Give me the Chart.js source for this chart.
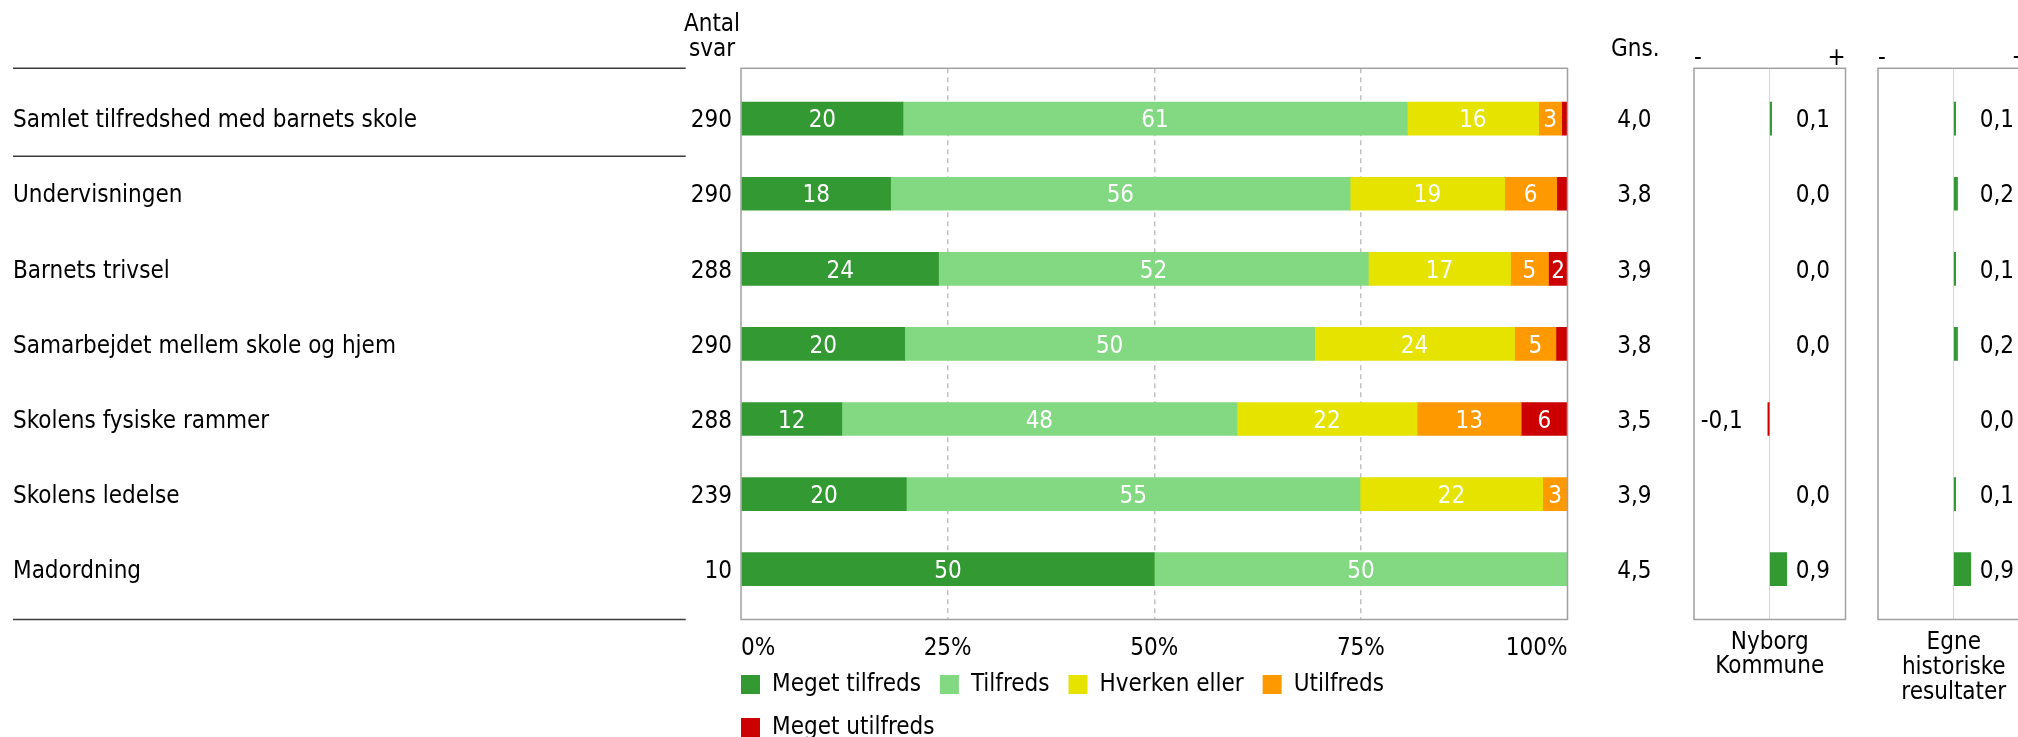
<!DOCTYPE html>
<html>
<head>
<meta charset="utf-8">
<script src="https://cdn.jsdelivr.net/npm/chart.js@4.4.1/dist/chart.umd.min.js"></script>
<style>
  html, body { margin: 0; padding: 0; background: #fff; overflow: hidden; }
  #wrap { position: relative; width: 2018px; height: 737px; overflow: hidden; }
  .box { position: absolute; top: 0; }
</style>
</head>
<body>
<div id="wrap">
  <div class="box" style="left:0;width:1600px;height:756px"><canvas id="mainChart"></canvas></div>
  <div class="box" style="left:1580px;width:300px;height:737px"><canvas id="nyborgChart"></canvas></div>
  <div class="box" style="left:1760px;width:300px;height:737px"><canvas id="egneChart"></canvas></div>
</div>
<script>
const categories = [
  'Samlet tilfredshed med barnets skole',
  'Undervisningen',
  'Barnets trivsel',
  'Samarbejdet mellem skole og hjem',
  'Skolens fysiske rammer',
  'Skolens ledelse',
  'Madordning',
];
const antalSvar = [290, 290, 288, 290, 288, 239, 10];

const seriesNames = ['Meget tilfreds', 'Tilfreds', 'Hverken eller', 'Utilfreds', 'Meget utilfreds'];
const megetTilfreds = [19.6, 18.1, 23.9, 19.8, 12.2, 20.0, 50];
const tilfreds = [61.0, 55.6, 52.0, 49.6, 47.8, 54.9, 50];
const hverkenEller = [15.9, 18.7, 17.2, 24.2, 21.8, 22.1, 0];
const utilfreds = [2.8, 6.3, 4.6, 5.0, 12.6, 3.0, 0];
const megetUtilfreds = [0.7, 1.3, 2.3, 1.4, 5.6, 0, 0];
const percentTicks = [0, 25, 50, 75, 100];

const gns = [4.0, 3.8, 3.9, 3.8, 3.5, 3.9, 4.5];
const nyborgDiff = [0.1, 0.0, 0.0, 0.0, -0.1, 0.0, 0.9];
const egneDiff = [0.1, 0.2, 0.1, 0.2, 0.0, 0.1, 0.9];

const COLORS = ['#339933', '#82d982', '#e6e300', '#ff9900', '#cc0000'];
const FONT = "'DejaVu Sans Condensed', 'DejaVu Sans', sans-serif";
const FS = 24;
const DY = 2.5; // 'middle' baseline sits a bit high for this font

Chart.defaults.font.family = FONT;
Chart.defaults.font.size = FS;
Chart.defaults.color = '#000';

const fmt = (v) => v.toFixed(1).replace('.', ',').replace('-0,0', '0,0');

// row axis shared by all three panels: one unit per category, some air above and below
const rowAxis = {
  type: 'linear',
  reverse: true,
  offset: false,
  min: -0.67,
  max: 6.67,
  afterBuildTicks: (s) => { s.ticks = categories.map((_, i) => ({ value: i })); },
  grid: { display: false },
  border: { display: false },
};

const frame = {
  id: 'frame',
  afterDatasetsDraw(chart) {
    const { ctx, chartArea: a } = chart;
    ctx.save();
    ctx.strokeStyle = '#a0a0a0';
    ctx.lineWidth = 1.5;
    ctx.strokeRect(a.left, a.top, a.right - a.left, a.bottom - a.top);
    ctx.restore();
  },
};

const barLabels = {
  id: 'barLabels',
  afterDatasetsDraw(chart) {
    const { ctx } = chart;
    ctx.save();
    ctx.font = `${FS}px ${FONT}`;
    ctx.fillStyle = '#fff';
    ctx.textAlign = 'center';
    ctx.textBaseline = 'middle';
    chart.data.datasets.forEach((ds, k) => {
      chart.getDatasetMeta(k).data.forEach((bar, i) => {
        const v = Math.round(ds.data[i].x);
        if (v < 2) return;
        const { x, base, y } = bar.getProps(['x', 'base', 'y'], true);
        ctx.fillText(String(v), (x + base) / 2, y + DY);
      });
    });
    ctx.restore();
  },
};

const tableDecor = {
  id: 'tableDecor',
  afterLayout(chart) {
    // legend sits right under the tick labels, a little tighter than Chart.js would stack it
    const lg = chart.legend;
    const h = lg.height;
    lg.top = chart.chartArea.bottom + 34;
    lg.bottom = lg.top + h;
  },
  afterDraw(chart) {
    const { ctx, chartArea, scales: { y } } = chart;
    ctx.save();
    ctx.font = `${FS}px ${FONT}`;
    ctx.fillStyle = '#000';
    ctx.textBaseline = 'middle';
    categories.forEach((c, i) => {
      const py = y.getPixelForValue(i) + DY;
      ctx.textAlign = 'left';
      ctx.fillText(c, 13, py);
      ctx.textAlign = 'right';
      ctx.fillText(String(antalSvar[i]), 732, py);
    });
    ctx.textAlign = 'center';
    ctx.textBaseline = 'alphabetic';
    ctx.fillText('Antal', 712, 30.7);
    ctx.fillText('svar', 712, 56);
    ctx.strokeStyle = '#3c3c3c';
    ctx.lineWidth = 1.5;
    [chartArea.top, y.getPixelForValue(0.5), chartArea.bottom].forEach((py) => {
      ctx.beginPath();
      ctx.moveTo(13, py);
      ctx.lineTo(685.7, py);
      ctx.stroke();
    });
    ctx.restore();
  },
};

new Chart(document.getElementById('mainChart'), {
  type: 'bar',
  data: {
    datasets: [megetTilfreds, tilfreds, hverkenEller, utilfreds, megetUtilfreds].map((vals, k) => ({
      label: seriesNames[k],
      data: vals.map((v, i) => ({ x: v, y: i })),
      backgroundColor: COLORS[k],
      borderWidth: 0,
      barThickness: 33,
    })),
  },
  options: {
    indexAxis: 'y',
    responsive: true,
    maintainAspectRatio: false,
    animation: false,
    layout: { padding: { top: 68.3, left: 722, right: 32.5, bottom: 0.5 } },
    scales: {
      x: {
        type: 'linear',
        stacked: true,
        min: 0,
        max: 100,
        afterBuildTicks: (s) => { s.ticks = percentTicks.map((v) => ({ value: v })); },
        afterFit: (s) => { s.height = 40; },
        grid: {
          drawTicks: false,
          lineWidth: 1.5,
          color: (c) => (c.tick && c.tick.value > 0 && c.tick.value < 100 ? '#c2c2c2' : 'rgba(0,0,0,0)'),
        },
        border: { display: false, dash: [5, 4] },
        ticks: { align: 'inner', padding: 14.6, callback: (v) => v + '%' },
      },
      y: {
        ...rowAxis,
        stacked: true,
        afterFit: (s) => { s.width = 19; },
        ticks: { display: false },
      },
    },
    plugins: {
      legend: {
        position: 'bottom',
        align: 'start',
        labels: { boxWidth: 19, boxHeight: 19, padding: 19, color: '#000', font: { size: FS } },
      },
      tooltip: { enabled: false },
    },
  },
  plugins: [frame, barLabels, tableDecor],
});

function diffPanel(id, values, title, titlePad, leftPad, rightPad, showGns) {
  const diffLabels = {
    id: 'diffLabels',
    afterDatasetsDraw(chart) {
      const { ctx, chartArea, scales: { x } } = chart;
      const zero = x.getPixelForValue(0);
      ctx.save();
      ctx.font = `${FS}px ${FONT}`;
      ctx.fillStyle = '#000';
      ctx.textBaseline = 'middle';
      chart.getDatasetMeta(0).data.forEach((bar, i) => {
        const v = values[i];
        ctx.textAlign = v < 0 ? 'right' : 'left';
        ctx.fillText(fmt(v), v < 0 ? zero - 27 : zero + 26, bar.y + DY);
      });
      if (showGns) {
        ctx.textAlign = 'right';
        ctx.textBaseline = 'alphabetic';
        ctx.fillText('Gns.', chartArea.left - 34.5, 56.4);
      }
      ctx.restore();
    },
  };

  new Chart(document.getElementById(id), {
    type: 'bar',
    data: {
      datasets: [{
        data: values.map((v, i) => ({ x: v, y: i })),
        backgroundColor: values.map((v) => (v < 0 ? '#cc0000' : v > 0 ? '#339933' : 'rgba(0,0,0,0)')),
        borderWidth: 0,
        barThickness: 33,
      }],
    },
    options: {
      indexAxis: 'y',
      responsive: true,
      maintainAspectRatio: false,
      animation: false,
      layout: { padding: { top: 0, left: leftPad, right: rightPad, bottom: 0 } },
      scales: {
        x: {
          type: 'linear',
          min: -4,
          max: 4,
          afterBuildTicks: (s) => { s.ticks = [{ value: 0 }]; },
          afterFit: (s) => { s.height = 117.5; },
          grid: { drawTicks: false, color: '#d4d4f0', lineWidth: 1 },
          border: { display: false },
          ticks: { display: false },
          title: {
            display: true,
            text: title,
            color: '#000',
            font: { size: FS, lineHeight: title.length > 2 ? 25 / FS : 24 / FS },
            padding: { top: 0, bottom: titlePad },
          },
        },
        xt: {
          type: 'linear',
          position: 'top',
          min: -4,
          max: 4,
          afterBuildTicks: (s) => { s.ticks = [{ value: -4 }, { value: 4 }]; },
          afterFit: (s) => { s.height = 68.3; },
          grid: { display: false },
          border: { display: false },
          ticks: { align: 'inner', padding: -10.5, font: { size: FS, lineHeight: 1 }, callback: (v) => (v < 0 ? '-' : '+') },
        },
        y: showGns
          ? { ...rowAxis, afterFit: (s) => { s.width = 114; }, ticks: { padding: 34.5, labelOffset: DY, callback: (v) => fmt(gns[v]) } }
          : { ...rowAxis, display: false },
      },
      plugins: { legend: { display: false }, tooltip: { enabled: false } },
    },
    plugins: [frame, diffLabels],
  });
}

diffPanel('nyborgChart', nyborgDiff, ['Nyborg', 'Kommune'], 58, 0, 34.5, true);
diffPanel('egneChart', egneDiff, ['Egne', 'historiske', 'resultater'], 31.5, 118, 30.5, false);
</script>
</body>
</html>
